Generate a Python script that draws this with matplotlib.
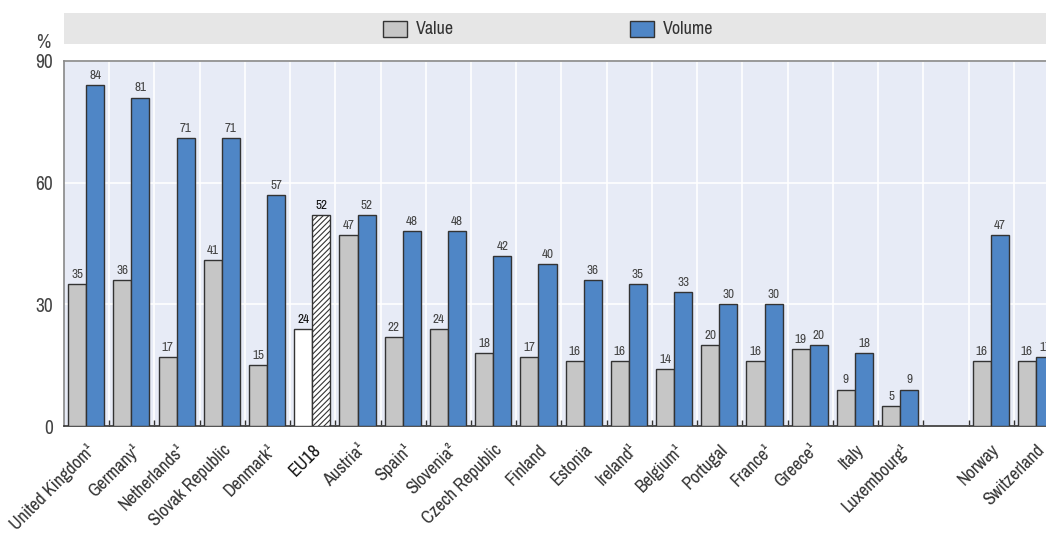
import matplotlib
matplotlib.use('Agg')
import matplotlib.pyplot as plt
from matplotlib.patches import Rectangle
import numpy as np

plt.rcParams['font.family'] = ['Archivo Narrow', 'DejaVu Sans']
plt.rcParams['hatch.color'] = '#555555'
plt.rcParams['hatch.linewidth'] = 0.8

# data ('' marks the empty slot before Norway)
countries = ['United Kingdom¹', 'Germany¹', 'Netherlands¹', 'Slovak Republic',
             'Denmark¹', 'EU18', 'Austria¹', 'Spain¹', 'Slovenia²',
             'Czech Republic', 'Finland', 'Estonia', 'Ireland¹', 'Belgium¹',
             'Portugal', 'France¹', 'Greece¹', 'Italy', 'Luxembourg¹', '',
             'Norway', 'Switzerland']
value = [35, 36, 17, 41, 15, 24, 47, 22, 24, 18, 17, 16, 16, 14, 20, 16, 19,
         9, 5, None, 16, 16]
volume = [84, 81, 71, 71, 57, 52, 52, 48, 48, 42, 40, 36, 35, 33, 30, 30, 20,
          18, 9, None, 47, 17]
highlight = 'EU18'

GREY = '#C6C6C6'
BLUE = '#4F86C6'
EDGE = '#333333'
BG = '#E7EBF6'

W, H = 1046, 538
fig = plt.figure(figsize=(W / 100, H / 100), dpi=100)
# axes reaches past the right edge, the last bar gets cut like in the source
ax = fig.add_axes([64 / W, (H - 426) / H, 995 / W, 365 / H])
ax.set_facecolor(BG)

n = len(countries)
x = np.arange(n)
bw = 0.4
for i, c in enumerate(countries):
    if value[i] is None:
        continue
    xv = x[i] + 0.29
    xo = x[i] + 0.69
    if c == highlight:
        ax.bar(xv, value[i], bw, color='white', edgecolor=EDGE, linewidth=1, zorder=3)
        ax.bar(xo, volume[i], bw, color='white', edgecolor=EDGE, linewidth=1,
               hatch='//////', zorder=3)
        kw = dict(color='#111111', fontweight='bold')
    else:
        ax.bar(xv, value[i], bw, color=GREY, edgecolor=EDGE, linewidth=1, zorder=3)
        ax.bar(xo, volume[i], bw, color=BLUE, edgecolor=EDGE, linewidth=1, zorder=3)
        kw = dict(color='#444444')
    ax.text(xv, value[i] + 1.0, str(value[i]), ha='center', va='bottom', fontsize=9.5, **kw)
    ax.text(xo, volume[i] + 1.0, str(volume[i]), ha='center', va='bottom', fontsize=9.5, **kw)

ax.set_xlim(0, n)
ax.set_ylim(0, 90)
ax.set_yticks([0, 30, 60, 90])
ax.tick_params(axis='y', length=0, labelsize=14, labelcolor='#444444', pad=8)
ax.set_xticks(x + 0.5)
ax.set_xticklabels(countries, rotation=45, ha='right', rotation_mode='anchor',
                   fontsize=13, color='#333333')
for lbl in ax.get_xticklabels():
    if lbl.get_text() == highlight:
        lbl.set_fontweight('bold')
        lbl.set_color('#111111')
ax.tick_params(axis='x', which='major', length=0, pad=11)
ax.set_xticks(np.arange(1, n), minor=True)
ax.tick_params(axis='x', which='minor', direction='in', length=4, width=1, color=EDGE)
ax.grid(axis='x', which='minor', color='white', linewidth=1.2, zorder=0)
ax.grid(axis='y', which='major', color='white', linewidth=1.2, zorder=0)
ax.set_axisbelow(True)
for s in ['top', 'left', 'right']:
    ax.spines[s].set_color('#888888')
    ax.spines[s].set_linewidth(1.2)
ax.spines['bottom'].set_color('#333333')
ax.spines['bottom'].set_linewidth(1.2)

fig.text(43 / W, (H - 42) / H, '%', fontsize=14, color='#444444', ha='center', va='center')

# legend band
fig.patches.append(Rectangle((64 / W, (H - 44) / H), 1 - 64 / W, 31 / H,
                             transform=fig.transFigure, facecolor='#E6E6E6',
                             edgecolor='none', zorder=0))
for px, col, lab in [(383, GREY, 'Value'), (630, BLUE, 'Volume')]:
    fig.patches.append(Rectangle((px / W, (H - 37) / H), 24 / W, 16 / H,
                                 transform=fig.transFigure, facecolor=col,
                                 edgecolor=EDGE, linewidth=1, zorder=1))
    fig.text((px + 33) / W, (H - 29) / H, lab, fontsize=13, color='#333333',
             ha='left', va='center')

fig.savefig('out.png', dpi=100)
